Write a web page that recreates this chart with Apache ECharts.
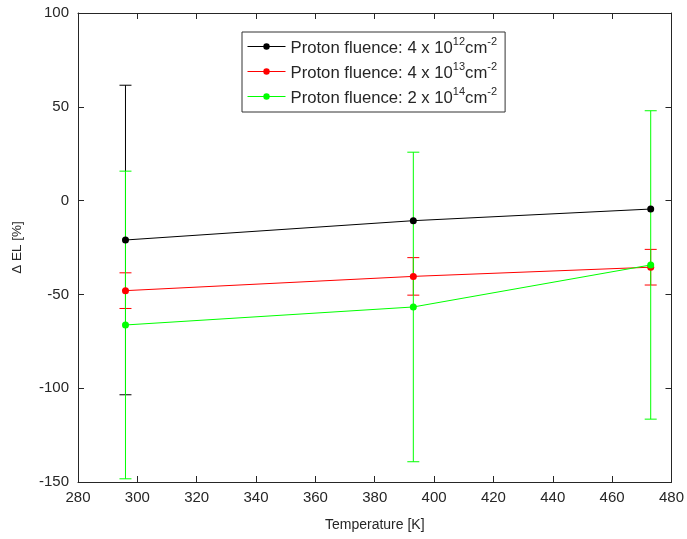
<!DOCTYPE html>
<html><head><meta charset="utf-8">
<script src="https://cdn.jsdelivr.net/npm/echarts@6/dist/echarts.min.js"></script>
<style>html,body{margin:0;padding:0;background:#fff}#c{width:687px;height:539px}</style>
</head><body><div id="c"></div>
<script>
const temps = [296, 393, 473];
const seriesNames = ['Proton fluence: 4 x 10^12', 'Proton fluence: 4 x 10^13', 'Proton fluence: 2 x 10^14'];
const blackVals = [-21, -10.7, -4.5];
const blackErr = [82.5, null, null];
const redVals = [-48, -40.4, -35.5];
const redErr = [9.5, 10, 9.5];
const greenVals = [-66.3, -56.7, -34.3];
const greenErr = [82, 82.5, 82.2];
const xTicks = {min: 280, max: 480, interval: 20};
const yTicks = {min: -150, max: 100, interval: 50};

const colors = ['#000000', '#ff0000', '#00ff00'];
const legendLabels = [
  '{a|Proton fluence: 4 x 10}{s|12}{a|cm}{s|-2}',
  '{a|Proton fluence: 4 x 10}{s|13}{a|cm}{s|-2}',
  '{a|Proton fluence: 2 x 10}{s|14}{a|cm}{s|-2}'
];
const FONT = 'Liberation Sans, Arial, sans-serif';
const TXT = '#262626';

function errData(vals, errs) {
  const out = [];
  vals.forEach((v, i) => { if (errs[i] != null) out.push([temps[i], v - errs[i], v + errs[i]]); });
  return out;
}
function errSeries(vals, errs, color) {
  return {
    type: 'custom', z: 2, silent: true,
    data: errData(vals, errs),
    encode: {x: 0, y: [1, 2]},
    renderItem: function (params, api) {
      const x = api.value(0), lo = api.value(1), hi = api.value(2);
      const p1 = api.coord([x, hi]), p2 = api.coord([x, lo]);
      const w = 6;
      const st = {stroke: color, lineWidth: 1};
      return {type: 'group', children: [
        {type: 'line', shape: {x1: p1[0], y1: p1[1], x2: p2[0], y2: p2[1]}, style: st},
        {type: 'line', shape: {x1: p1[0] - w, y1: p1[1], x2: p1[0] + w, y2: p1[1]}, style: st},
        {type: 'line', shape: {x1: p2[0] - w, y1: p2[1], x2: p2[0] + w, y2: p2[1]}, style: st}
      ]};
    }
  };
}
function lineSeries(name, vals, color) {
  return {
    name: name, type: 'line', z: 3,
    data: vals.map((v, i) => [temps[i], v]),
    symbol: 'circle', symbolSize: 7,
    lineStyle: {color: color, width: 1},
    itemStyle: {color: color},
    emphasis: {disabled: true}
  };
}

const chart = echarts.init(document.getElementById('c'));
const axisLine = {show: true, onZero: false, lineStyle: {color: TXT, width: 1}};
const tick = {show: true, inside: true, length: 6, lineStyle: {color: TXT}};
chart.setOption({
  animation: false,
  backgroundColor: '#fff',
  grid: {left: 78, right: 15, top: 13, bottom: 57},
  legend: {
    orient: 'vertical', left: 242, top: 32,
    data: seriesNames,
    itemWidth: 38, itemHeight: 8, itemGap: 4,
    padding: [4, 8, 5, 5],
    borderColor: '#333', borderWidth: 1, backgroundColor: '#fff',
    lineStyle: {width: 1},
    formatter: function (name) { return legendLabels[seriesNames.indexOf(name)]; },
    textStyle: {
      color: TXT, fontFamily: FONT,
      rich: {
        a: {fontSize: 16.7, fontFamily: FONT, color: TXT, lineHeight: 21, verticalAlign: 'bottom'},
        s: {fontSize: 11, fontFamily: FONT, color: TXT, lineHeight: 12, verticalAlign: 'top'}
      }
    }
  },
  xAxis: [{
    type: 'value', min: xTicks.min, max: xTicks.max, interval: xTicks.interval,
    name: 'Temperature [K]', nameLocation: 'middle', nameGap: 36,
    nameTextStyle: {color: TXT, fontFamily: FONT, fontSize: 14},
    axisLine: axisLine, axisTick: tick,
    axisLabel: {color: TXT, fontFamily: FONT, fontSize: 15, margin: 8},
    splitLine: {show: false}
  }, {
    type: 'value', position: 'top', min: xTicks.min, max: xTicks.max, interval: xTicks.interval,
    axisLine: axisLine, axisTick: tick,
    axisLabel: {show: false}, splitLine: {show: false}
  }],
  yAxis: [{
    type: 'value', min: yTicks.min, max: yTicks.max, interval: yTicks.interval,
    name: 'Δ EL [%]', nameLocation: 'middle', nameGap: 54, nameRotate: 90,
    nameTextStyle: {color: TXT, fontFamily: FONT, fontSize: 13.5},
    axisLine: axisLine, axisTick: tick,
    axisLabel: {color: TXT, fontFamily: FONT, fontSize: 15, margin: 9},
    splitLine: {show: false}
  }, {
    type: 'value', position: 'right', min: yTicks.min, max: yTicks.max, interval: yTicks.interval,
    axisLine: axisLine, axisTick: tick,
    axisLabel: {show: false}, splitLine: {show: false}
  }],
  series: [
    errSeries(blackVals, blackErr, colors[0]),
    lineSeries(seriesNames[0], blackVals, colors[0]),
    errSeries(redVals, redErr, colors[1]),
    lineSeries(seriesNames[1], redVals, colors[1]),
    errSeries(greenVals, greenErr, colors[2]),
    lineSeries(seriesNames[2], greenVals, colors[2])
  ]
});
</script></body></html>
